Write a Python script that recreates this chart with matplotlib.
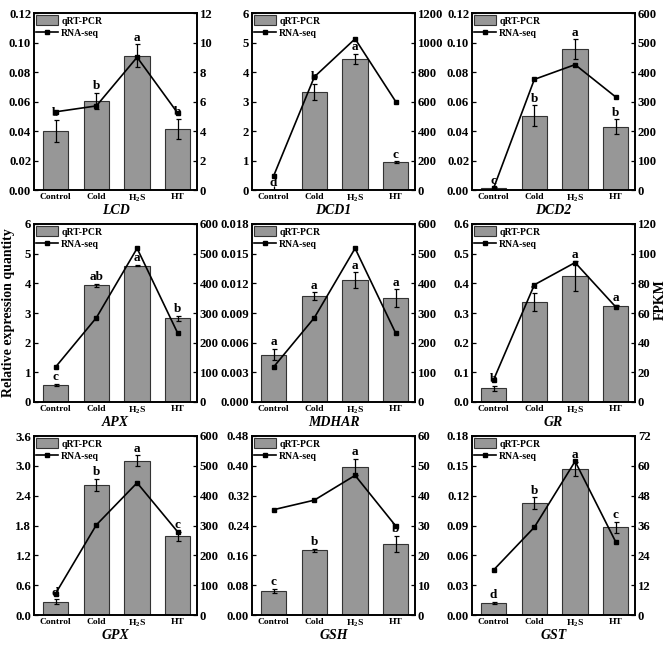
import numpy as np
import matplotlib
matplotlib.use("Agg")
import matplotlib.pyplot as plt

plt.rcParams["font.family"] = "Liberation Serif"
plt.rcParams["font.weight"] = "bold"
plt.rcParams["mathtext.fontset"] = "custom"
plt.rcParams["mathtext.rm"] = "Liberation Serif:bold"

groups = ["Control", "Cold", "H$_\\mathregular{2}$S", "HT"]

genes = ["LCD", "DCD1", "DCD2", "APX", "MDHAR", "GR", "GPX", "GSH", "GST"]

qpcr = {
    "LCD":   [0.040, 0.0605, 0.091, 0.0413],
    "DCD1":  [0.01, 3.33, 4.44, 0.95],
    "DCD2":  [0.0012, 0.0505, 0.0955, 0.043],
    "APX":   [0.58, 3.93, 4.60, 2.82],
    "MDHAR": [0.0048, 0.0107, 0.0123, 0.0105],
    "GR":    [0.046, 0.338, 0.425, 0.325],
    "GPX":   [0.27, 2.62, 3.10, 1.58],
    "GSH":   [0.065, 0.173, 0.397, 0.190],
    "GST":   [0.0125, 0.1125, 0.147, 0.088],
}
qpcr_err = {
    "LCD":   [0.0075, 0.0055, 0.0078, 0.007],
    "DCD1":  [0.0, 0.27, 0.18, 0.02],
    "DCD2":  [0.0005, 0.0068, 0.0068, 0.0048],
    "APX":   [0.04, 0.05, 0.03, 0.08],
    "MDHAR": [0.0006, 0.0004, 0.0008, 0.0009],
    "GR":    [0.008, 0.03, 0.05, 0.003],
    "GPX":   [0.05, 0.12, 0.11, 0.09],
    "GSH":   [0.006, 0.004, 0.022, 0.022],
    "GST":   [0.001, 0.006, 0.007, 0.006],
}
rnaseq = {
    "LCD":   [5.3, 5.7, 9.0, 5.2],
    "DCD1":  [95, 767, 1025, 598],
    "DCD2":  [6, 375, 425, 315],
    "APX":   [118, 284, 518, 231],
    "MDHAR": [118, 284, 518, 231],
    "GR":    [15, 79, 94, 64],
    "GPX":   [72, 302, 443, 278],
    "GSH":   [35.3, 38.5, 46.8, 29.8],
    "GST":   [18.1, 35.3, 61.8, 29.3],
}
letters = {
    "LCD":   ["b", "b", "a", "b"],
    "DCD1":  ["d", "b", "a", "c"],
    "DCD2":  ["c", "b", "a", "b"],
    "APX":   ["c", "ab", "a", "b"],
    "MDHAR": ["a", "a", "a", "a"],
    "GR":    ["b", "a", "a", "a"],
    "GPX":   ["d", "b", "a", "c"],
    "GSH":   ["c", "b", "a", "b"],
    "GST":   ["d", "b", "a", "c"],
}
# (max, step) for left and right axes
left_scale = {
    "LCD": (0.12, 0.02), "DCD1": (6, 1), "DCD2": (0.12, 0.02),
    "APX": (6, 1), "MDHAR": (0.018, 0.003), "GR": (0.6, 0.1),
    "GPX": (3.6, 0.6), "GSH": (0.48, 0.08), "GST": (0.18, 0.03),
}
left_fmt = {
    "LCD": "%.2f", "DCD1": "%d", "DCD2": "%.2f", "APX": "%d", "MDHAR": "%.3f",
    "GR": "%.1f", "GPX": "%.1f", "GSH": "%.2f", "GST": "%.2f",
}
right_scale = {
    "LCD": (12, 2), "DCD1": (1200, 200), "DCD2": (600, 100),
    "APX": (600, 100), "MDHAR": (600, 100), "GR": (120, 20),
    "GPX": (600, 100), "GSH": (60, 10), "GST": (72, 12),
}

W, H = 669, 645
fig = plt.figure(figsize=(W / 100, H / 100), dpi=100)

col_left = [34, 252, 472]
row_top = [13, 224, 436]
row_bot = [190, 402, 615]
ax_w = 163

x = np.arange(4)
for i, g in enumerate(genes):
    r, c = divmod(i, 3)
    ax = fig.add_axes([col_left[c] / W, 1 - row_bot[r] / H,
                       ax_w / W, (row_bot[r] - row_top[r]) / H])
    ax2 = ax.twinx()

    vals = np.array(qpcr[g])
    errs = np.array(qpcr_err[g])
    bars = ax.bar(x, vals, width=0.62, color="#979797", edgecolor="#333333",
                  linewidth=0.8, label="qRT-PCR", zorder=2)
    ax.errorbar(x, vals, yerr=errs, fmt="none", ecolor="black",
                elinewidth=0.9, capsize=1.8, capthick=0.9, zorder=3)

    lmax, lstep = left_scale[g]
    ax.set_ylim(0, lmax)
    ax.set_yticks(np.arange(0, lmax + lstep / 2, lstep))
    ax.yaxis.set_major_formatter(matplotlib.ticker.FormatStrFormatter(left_fmt[g]))
    ax.set_xlim(-0.53, 3.47)
    ax.set_xticks(x)
    ax.set_xticklabels(groups, fontsize=6.8, fontweight="bold")

    for xi, v, e, t in zip(x, vals, errs, letters[g]):
        ax.text(xi, v + e + lmax * 0.003, t, ha="center", va="bottom",
                fontsize=9.5, fontweight="bold", zorder=5)

    rmax, rstep = right_scale[g]
    line, = ax2.plot(x, rnaseq[g], color="black", lw=1.2, marker="s",
                     markersize=2.2, label="RNA-seq")
    ax2.set_ylim(0, rmax)
    ax2.set_yticks(np.arange(0, rmax + rstep / 2, rstep))

    for a in (ax, ax2):
        a.tick_params(direction="in", length=3, width=0.9, labelsize=9.2, pad=2)
        for s in a.spines.values():
            s.set_linewidth(1.2)
        for lab in a.get_yticklabels():
            lab.set_fontweight("bold")
    ax.tick_params(axis="x", labelsize=6.8, pad=2)

    ax.set_xlabel(g, fontsize=10, fontstyle="italic", fontweight="bold", labelpad=0)

    ax2.legend([bars, line], ["qRT-PCR", "RNA-seq"], loc="upper left",
               frameon=False, prop={"size": 7, "weight": "bold"},
               handlelength=2.2, handleheight=1.2, borderaxespad=0.0,
               borderpad=0.25, labelspacing=0.25, handletextpad=0.35)

fig.text(9 / W, 1 - 313 / H, "Relative expression quantity", rotation=90,
         ha="center", va="center", fontsize=10, fontweight="bold")
fig.text(660 / W, 1 - 300 / H, "FPKM", rotation=90,
         ha="center", va="center", fontsize=10, fontweight="bold")

fig.savefig("out.png", dpi=100)
